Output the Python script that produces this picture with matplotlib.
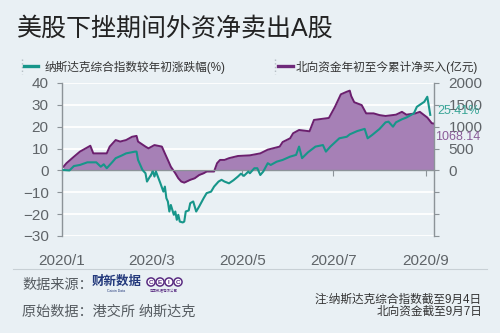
import matplotlib
matplotlib.use('Agg')
import matplotlib.pyplot as plt
from matplotlib.lines import Line2D
from matplotlib.ticker import FuncFormatter
import pandas as pd

plt.rcParams['font.family'] = ['Liberation Sans', 'Noto Sans CJK SC', 'DejaVu Sans']

# Nasdaq composite, change vs start of year (%)
nasdaq_dates = [
    '2020-01-02', '2020-01-06', '2020-01-09', '2020-01-13', '2020-01-18', '2020-01-24',
    '2020-01-27', '2020-01-29', '2020-01-31', '2020-02-04', '2020-02-06', '2020-02-10',
    '2020-02-13', '2020-02-19', '2020-02-20', '2020-02-21', '2020-02-24', '2020-02-26',
    '2020-02-27', '2020-02-29', '2020-03-02', '2020-03-03', '2020-03-04', '2020-03-07',
    '2020-03-09', '2020-03-10', '2020-03-11', '2020-03-12', '2020-03-13', '2020-03-14',
    '2020-03-16', '2020-03-17', '2020-03-18', '2020-03-19', '2020-03-20', '2020-03-22',
    '2020-03-23', '2020-03-24', '2020-03-26', '2020-03-27', '2020-03-29', '2020-03-31',
    '2020-04-02', '2020-04-05', '2020-04-07', '2020-04-10', '2020-04-12', '2020-04-15',
    '2020-04-17', '2020-04-19', '2020-04-22', '2020-04-25', '2020-04-28', '2020-04-30',
    '2020-05-02', '2020-05-05', '2020-05-06', '2020-05-09', '2020-05-11', '2020-05-13',
    '2020-05-15', '2020-05-18', '2020-05-20', '2020-05-24', '2020-05-28', '2020-06-02',
    '2020-06-06', '2020-06-08', '2020-06-10', '2020-06-14', '2020-06-19', '2020-06-24',
    '2020-06-26', '2020-06-29', '2020-07-05', '2020-07-10', '2020-07-12', '2020-07-17',
    '2020-07-22', '2020-07-24', '2020-07-27', '2020-08-01', '2020-08-05', '2020-08-07',
    '2020-08-10', '2020-08-12', '2020-08-16', '2020-08-19', '2020-08-24', '2020-08-26',
    '2020-08-31', '2020-09-02', '2020-09-04',
]
nasdaq_pct = [
    0.2, 0.0, 2.0, 2.5, 3.7, 3.7,
    1.7, 2.8, 1.0, 4.0, 5.6, 6.8,
    7.8, 8.6, 8.6, 4.8, 0.2, -1.3,
    -5.1, -2.8, -0.5, -2.8, -0.5, -5.9,
    -9.7, -7.4, -12.7, -14.2, -18.8, -15.8,
    -20.3, -18.8, -22.6, -20.3, -23.4, -23.8,
    -23.4, -18.8, -18.3, -15.0, -14.2, -18.8,
    -16.5, -12.7, -10.4, -9.7, -7.4, -5.1,
    -4.3, -5.1, -5.9, -4.5, -2.8, -1.5,
    -2.5, -0.5, -1.3, 1.0, 1.0, -2.1,
    -0.5, 3.3, 2.5, 4.0, 4.8, 6.3,
    7.1, 10.9, 5.6, 8.3, 10.9, 11.6,
    8.6, 10.9, 14.7, 15.4, 16.5, 18.0,
    19.0, 14.7, 16.2, 19.0, 22.0, 22.3,
    20.0, 22.0, 23.4, 24.2, 26.1, 29.1,
    31.4, 33.7, 25.41,
]

# Northbound cumulative net buying since start of year (100m yuan)
north_dates = [
    '2020-01-02', '2020-01-04', '2020-01-08', '2020-01-13', '2020-01-19', '2020-01-20',
    '2020-01-22', '2020-01-31', '2020-02-02', '2020-02-06', '2020-02-09', '2020-02-13',
    '2020-02-17', '2020-02-20', '2020-02-21', '2020-02-26', '2020-02-28', '2020-03-03',
    '2020-03-08', '2020-03-10', '2020-03-12', '2020-03-14', '2020-03-17', '2020-03-19',
    '2020-03-21', '2020-03-23', '2020-03-27', '2020-03-30', '2020-04-02', '2020-04-05',
    '2020-04-07', '2020-04-12', '2020-04-14', '2020-04-16', '2020-04-19', '2020-04-22',
    '2020-04-28', '2020-05-06', '2020-05-13', '2020-05-18', '2020-05-26', '2020-05-28',
    '2020-06-02', '2020-06-04', '2020-06-08', '2020-06-15', '2020-06-18', '2020-06-28',
    '2020-07-02', '2020-07-06', '2020-07-10', '2020-07-12', '2020-07-13', '2020-07-15',
    '2020-07-20', '2020-07-23', '2020-07-28', '2020-08-01', '2020-08-05', '2020-08-12',
    '2020-08-16', '2020-08-19', '2020-08-25', '2020-08-28', '2020-09-02', '2020-09-05',
    '2020-09-07',
]
north_flow = [
    85, 165, 285, 430, 545, 565,
    390, 390, 545, 695, 660, 695,
    770, 790, 660, 545, 505, 580,
    545, 390, 240, 85, -65, -180,
    -255, -280, -215, -180, -105, -65,
    -25, -25, 165, 240, 240, 280,
    330, 345, 390, 475, 545, 650,
    735, 850, 925, 895, 1155, 1200,
    1450, 1740, 1800, 1825, 1700, 1560,
    1495, 1305, 1305, 1265, 1245, 1275,
    1340, 1275, 1305, 1340, 1210, 1080,
    1068.14,
]

xtick_dates = ['2020-01-01', '2020-03-01', '2020-05-01', '2020-07-01', '2020-09-01']
xtick_labels = ['2020/1', '2020/3', '2020/5', '2020/7', '2020/9']
left_ticks = [40, 30, 20, 10, 0, -10, -20, -30]
right_ticks = [2000, 1500, 1000, 500, 0, -500, -1000, -1500]

BG = '#e9f0f4'
TEAL = '#17968a'
PURPLE_LINE = '#6b1f6e'
PURPLE_FILL = '#a680b6'
AXIS_GRAY = '#8c9398'
TICK_TXT = '#5f6468'

fig = plt.figure(figsize=(5, 3.33), dpi=100, facecolor=BG)
ax = fig.add_axes([0.124, 0.2913, 0.744, 0.4595])
ax2 = ax.twinx()
ax.set_zorder(ax2.get_zorder() + 1)
ax.patch.set_visible(False)
ax2.patch.set_visible(False)

# northbound fund: filled area on the right axis
nd = pd.to_datetime(north_dates)
ax2.fill_between(nd, north_flow, 0, color=PURPLE_FILL, lw=0, zorder=1)
ax2.plot(nd, north_flow, color=PURPLE_LINE, lw=1.4, zorder=2)
ax2.set_ylim(-1500, 2000)
ax2.set_yticks(right_ticks)
ax2.yaxis.set_major_formatter(FuncFormatter(lambda v, p: f'{v:.0f}' if v >= 0 else ''))
ax2.grid(axis='y', color='white', lw=1.3)
ax2.set_axisbelow(True)

# nasdaq line on the left axis
ax.plot(pd.to_datetime(nasdaq_dates), nasdaq_pct, color=TEAL, lw=1.5, zorder=3)
ax.set_ylim(-30, 40)
ax.set_yticks(left_ticks)
ax.set_xlim(pd.Timestamp('2020-01-01 12:00'), pd.Timestamp('2020-09-06 12:00'))
ax.set_xticks(pd.to_datetime(xtick_dates), xtick_labels)

for s in ['top', 'right']:
    ax.spines[s].set_visible(False)
for s in ['top', 'left', 'bottom']:
    ax2.spines[s].set_visible(False)
ax.spines['bottom'].set_position(('data', 0))
ax.spines['bottom'].set_color(AXIS_GRAY)
ax.spines['left'].set_color(AXIS_GRAY)
ax2.spines['right'].set_color(AXIS_GRAY)
for sp in [ax.spines['bottom'], ax.spines['left'], ax2.spines['right']]:
    sp.set_linewidth(1.0)

ax.tick_params(axis='x', length=4, color=AXIS_GRAY, labelbottom=False)
ax.tick_params(axis='y', length=3.6, color=AXIS_GRAY, pad=6, labelsize=11, labelcolor=TICK_TXT)
ax2.tick_params(axis='y', length=3.6, color=AXIS_GRAY, pad=7, labelsize=11, labelcolor=TICK_TXT)

# month labels sit at the bottom edge, ticks stay on the zero line
ax2.xaxis.set_visible(True)
ax2.tick_params(axis='x', length=0, pad=13, labelsize=11, labelcolor=TICK_TXT, labelbottom=True)

# end labels
ax.annotate('25.41%', xy=(pd.Timestamp(nasdaq_dates[-1]), nasdaq_pct[-1]),
            xytext=(5, 2.5), textcoords='offset points', ha='left', va='center',
            fontsize=9, color='#3aa597', annotation_clip=False)
ax2.annotate('1068.14', xy=(pd.Timestamp(north_dates[-1]), north_flow[-1]),
             xytext=(0, -9.5), textcoords='offset points', ha='left', va='center',
             fontsize=9, color='#8a5b98', annotation_clip=False)

# title
fig.text(17 / 500, 1 - 29 / 333, '美股下挫期间外资净卖出A股', fontsize=18,
         color='#222222', va='center', ha='left', fontweight='light')

# legends
h1 = Line2D([], [], color=TEAL, lw=2.4)
h2 = Line2D([], [], color='#6e2a7a', lw=2.4)
fig.legend([h1], ['纳斯达克综合指数较年初涨跌幅(%)'], loc='center left',
           bbox_to_anchor=(24 / 500, 1 - 67 / 333), frameon=False, fontsize=8.4,
           borderpad=0, borderaxespad=0, handlelength=1.2, handletextpad=0.55,
           labelcolor='#333333')
fig.legend([h2], ['北向资金年初至今累计净买入(亿元)'], loc='center left',
           bbox_to_anchor=(278 / 500, 1 - 67 / 333), frameon=False, fontsize=8.4,
           borderpad=0, borderaxespad=0, handlelength=1.3, handletextpad=0.2,
           labelcolor='#333333')
for xm in [22, 275]:
    fig.add_artist(Line2D([xm / 500, xm / 500], [1 - 59 / 333, 1 - 74 / 333],
                          transform=fig.transFigure, ls=':', color='#b3bcc2', lw=1))

# footer
fig.add_artist(Line2D([13 / 500, 487 / 500], [1 - 269 / 333, 1 - 269 / 333],
                      transform=fig.transFigure, color='#c8d0d5', lw=0.8))
fig.text(22 / 500, 1 - 285 / 333, '数据来源：', fontsize=10.2, color='#555b60', va='center')
fig.text(22 / 500, 1 - 312 / 333, '原始数据：港交所 纳斯达克', fontsize=10.2, color='#555b60',
         va='center')
fig.text(92 / 500, 1 - 282 / 333, '财新数据', fontsize=9, fontweight='bold',
         color='#243a7c', va='center')
fig.text(116 / 500, 1 - 291 / 333, 'Caixin Data', fontsize=2.5, color='#243a7c',
         va='center', ha='center')
for i, ch in enumerate('CEIC'):
    fig.text((151 + i * 9) / 500, 1 - 282 / 333, ch, fontsize=4.5, fontweight='bold',
             color='#5a2d82', va='center', ha='center',
             bbox=dict(boxstyle='circle,pad=0.25', fc='white', ec='#5a2d82', lw=1.1))
fig.text(164 / 500, 1 - 291 / 333, '中国数据有限公司', fontsize=2.5, color='#5a2d82',
         va='center', ha='center')
fig.text(482 / 500, 1 - 300 / 333, '注:纳斯达克综合指数截至9月4日', fontsize=8.4,
         color='#333333', va='center', ha='right')
fig.text(482 / 500, 1 - 312 / 333, '北向资金截至9月7日', fontsize=8.4,
         color='#333333', va='center', ha='right')

fig.savefig('out.png', dpi=100, facecolor=BG)
